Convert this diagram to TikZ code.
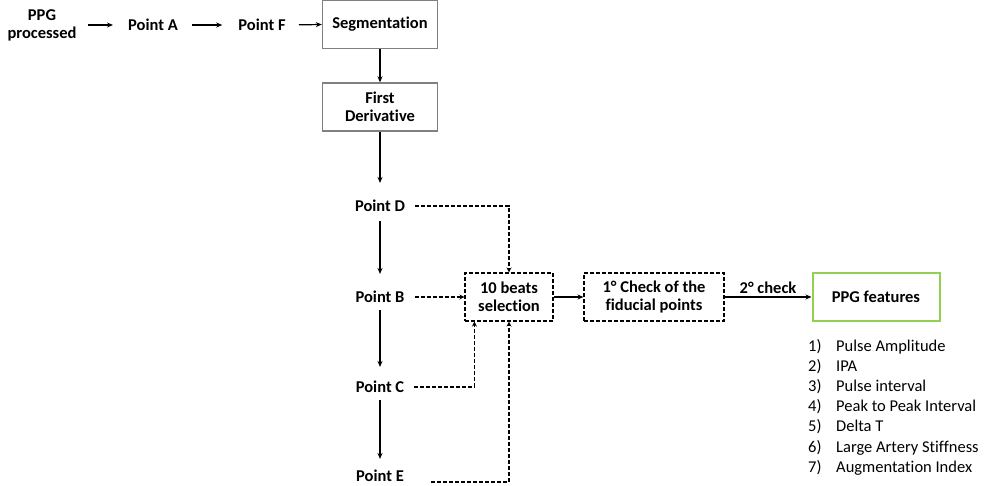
\documentclass[tikz,border=0pt]{standalone}
\usepackage{fontspec}
\setmainfont[Ligatures=NoCommon]{Carlito}
\usepackage{xcolor}
\usetikzlibrary{
  arrows.meta,
  positioning,
  calc
}
\definecolor{boxgray}{RGB}{128,128,128}
\definecolor{featgreen}{RGB}{146,208,80}
\tikzset{
  steplbl/.style={
    font=\fontsize{16.5}{19}\selectfont\bfseries,
    align=center,
    inner sep=2pt,
  },
  graybox/.style={
    draw=boxgray,
    line width=1.4pt,
    minimum width=115pt,
    minimum height=48pt,
    align=center,
    font=\fontsize{16.5}{19}\selectfont\bfseries,
  },
  dashbox/.style={
    draw=black,
    dash pattern=on 4pt off 2pt,
    line width=1.1pt,
    minimum height=48pt,
    align=center,
    font=\fontsize{16.5}{19}\selectfont\bfseries,
  },
  featbox/.style={
    draw=featgreen,
    line width=2pt,
    minimum width=127pt,
    minimum height=48pt,
    align=center,
    font=\fontsize{16.5}{19}\selectfont\bfseries,
  },
  featitem/.style={
    font=\fontsize{16.5}{19}\selectfont,
    anchor=base west,
    inner sep=0pt,
  },
  arr/.style={
    -{Stealth[length=6pt,width=5pt]},
    line width=1.2pt,
  },
  darr/.style={
    -{Stealth[length=5pt,width=5pt]},
    line width=1.1pt,
    dash pattern=on 4pt off 2pt,
  },
}

\begin{document}
\begin{tikzpicture}[x=1pt, y=-1pt]
  \useasboundingbox (0,0) rectangle (993,485);

  % Top row
  \node[steplbl] (ppg) at (42,25) {PPG\\[-1pt]processed};
  \node[steplbl] (ptA) at (153,25) {Point A};
  \node[steplbl] (ptF) at (262,25) {Point F};
  \node[graybox] (seg) at (380,24.5) {Segmentation};

  \draw[arr, shorten <=9pt, shorten >=13pt] (ppg.east) -- (ptA.west);
  \draw[arr, shorten <=12pt, shorten >=14pt] (ptA.east) -- (ptF.west);
  \draw[arr, shorten <=11pt] (ptF.east) -- (seg.west);

  % Derivative and fiducial points
  \node[graybox] (deriv) at (380,107) {First\\[-1pt]Derivative};
  \draw[arr] (seg) -- (deriv);

  \node[steplbl] (ptD) at (380,206) {Point D};
  \node[steplbl] (ptB) at (380,297) {Point B};
  \node[steplbl] (ptC) at (380,387) {Point C};
  \node[steplbl] (ptE) at (380,476) {Point E};

  \draw[arr, shorten >=15pt] (deriv.south) -- (ptD.north);
  \draw[arr, shorten <=7pt, shorten >=15pt] (ptD.south) -- (ptB.north);
  \draw[arr, shorten <=5pt, shorten >=12pt] (ptB.south) -- (ptC.north);
  \draw[arr, shorten <=5pt, shorten >=9pt] (ptC.south) -- (ptE.north);

  % Selection and checks
  \node[dashbox, minimum width=88pt] (beats) at (509,297) {10 beats\\[-1pt]selection};
  \node[dashbox, minimum width=140pt] (check) at (654,297) {1° Check of the\\[-1pt]fiducial points};
  \node[featbox] (feat) at (876,297) {PPG features};

  \draw[darr] ([xshift=8pt]ptD.east) -| (beats.north);
  \draw[darr] ([xshift=8pt]ptB.east) -- (beats.west);
  \draw[darr] ([xshift=8pt]ptC.east) -| ([xshift=10pt]beats.south west);
  \draw[darr] ([xshift=25pt,yshift=-6pt]ptE.east) -| (beats.south);

  \draw[arr] (beats) -- (check);
  \draw[arr] (check) -- node[steplbl, above=1pt] {2° check} (feat);

  % Feature list
  \foreach \num/\txt [count=\i] in {1/Pulse Amplitude, 2/IPA, 3/Pulse interval,
      4/Peak to Peak Interval, 5/Delta T, 6/Large Artery Stiffness,
      7/Augmentation Index} {
    \node[featitem] (num\i) at (808,{351+20.2*(\i-1)}) {\num)};
    \node[featitem] (item\i) at (836,{351+20.2*(\i-1)}) {\txt};
  }
\end{tikzpicture}
\end{document}
